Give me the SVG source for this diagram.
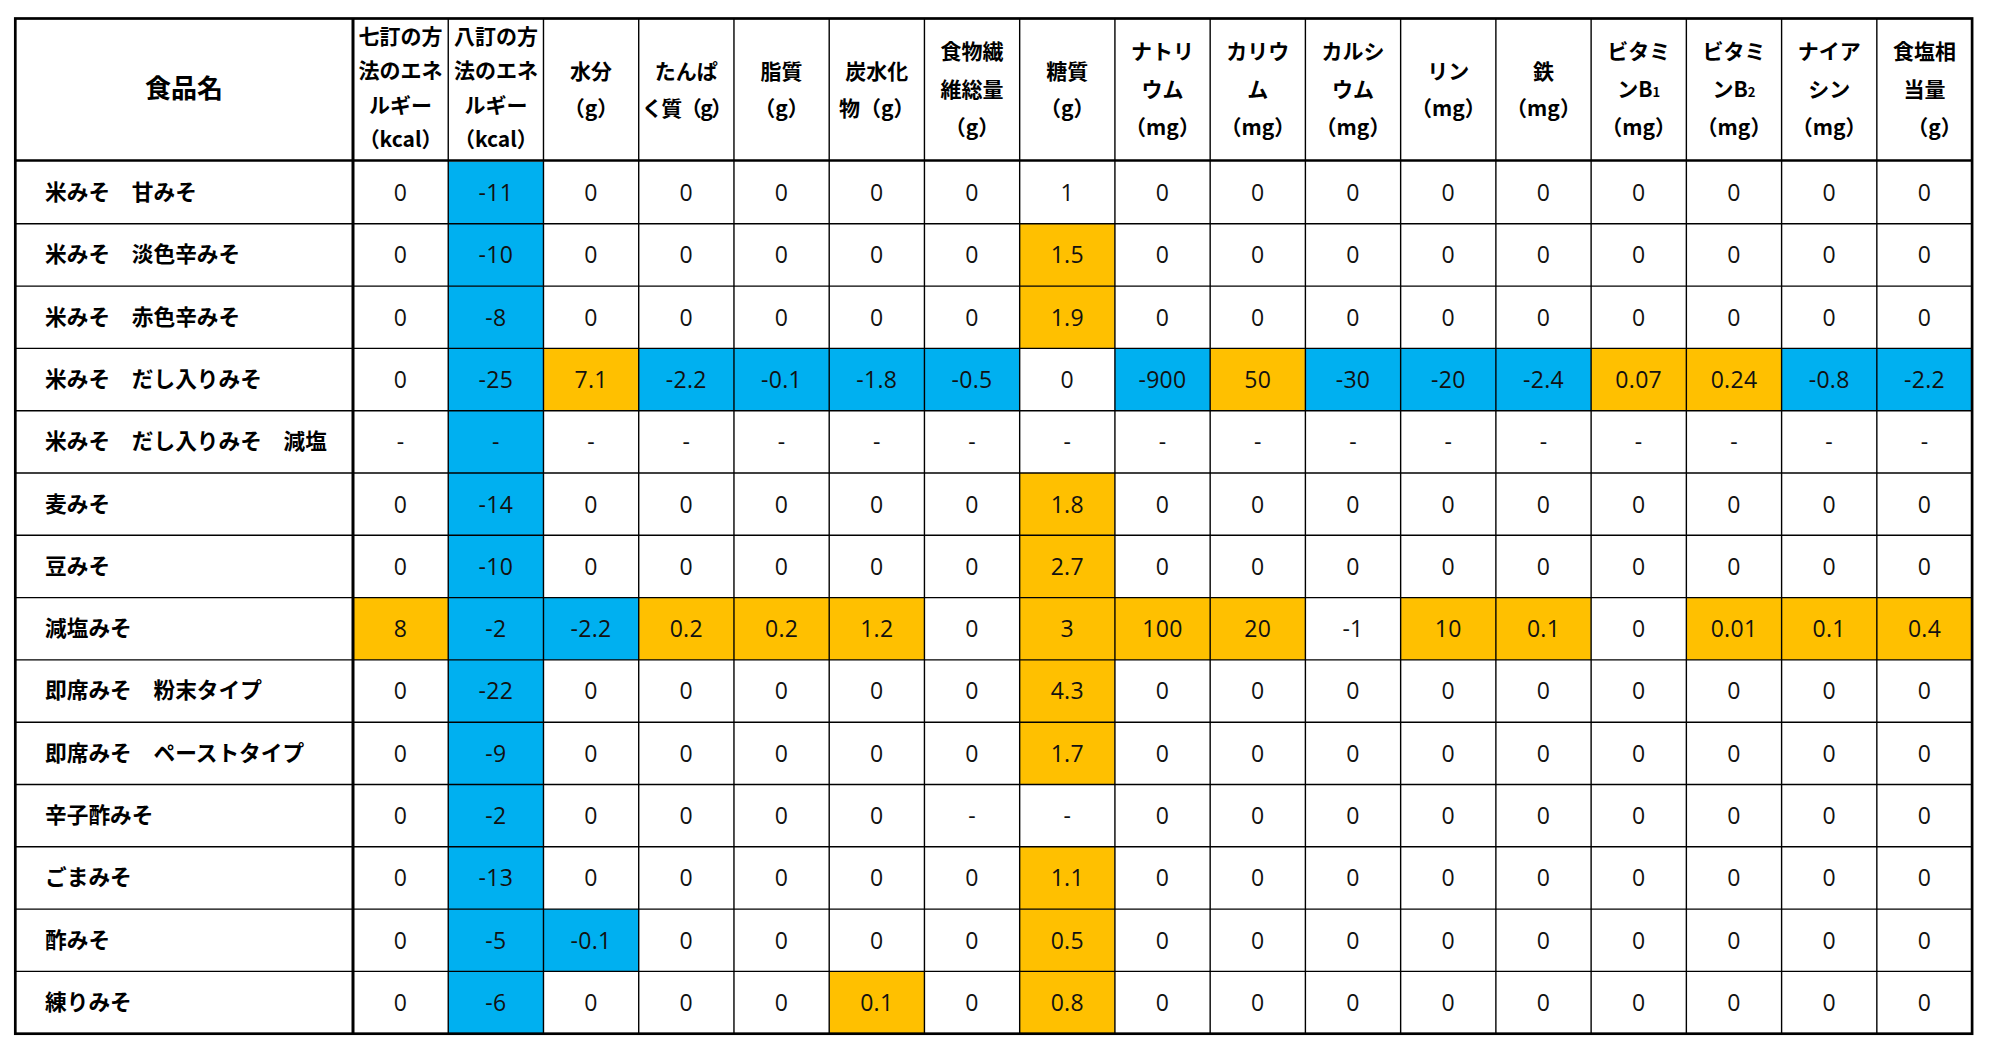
<svg xmlns="http://www.w3.org/2000/svg" width="1992" height="1059" viewBox="0 0 1992 1059">
<style>
.bg{fill:#fff}
.b{fill:#00B0F0}
.o{fill:#FFC000}
.h{font-family:"Noto Sans CJK JP","Noto Sans CJK SC",sans-serif;font-weight:bold;font-size:21px;fill:#000;text-anchor:middle}
.t{font-size:26px}
.s{letter-spacing:-1.5px}
.row text{font-family:"Open Sans","Noto Sans",sans-serif;font-size:23px;letter-spacing:0.3px;fill:#111;text-anchor:middle}
.row text.l{font-family:"Noto Sans CJK JP","Noto Sans CJK SC",sans-serif;font-weight:bold;font-size:21.7px;letter-spacing:0;fill:#000;text-anchor:start}
.g line{stroke:#000;stroke-width:1.4}
.g .k{stroke-width:3}
.g .m{stroke-width:2.5}
.g rect{fill:none;stroke:#000;stroke-width:2.7}
</style>
<rect class="bg" x="0" y="0" width="1992" height="1059"/>
<g id="header">
<text class="h t" x="184" y="98">食品名</text>
<text class="h" x="400.6" y="43.5">七訂の方</text><text class="h" x="400.6" y="78">法のエネ</text><text class="h" x="400.6" y="112.5">ルギー</text><text class="h" x="400.6" y="147">（kcal）</text>
<text class="h" x="495.9" y="43.5">八訂の方</text><text class="h" x="495.9" y="78">法のエネ</text><text class="h" x="495.9" y="112.5">ルギー</text><text class="h" x="495.9" y="147">（kcal）</text>
<text class="h" x="591.1" y="79">水分</text><text class="h" x="591.1" y="116">（g）</text>
<text class="h" x="686.3" y="79">たんぱ</text><text class="h s" x="686.3" y="116">く質（g）</text>
<text class="h" x="781.6" y="79">脂質</text><text class="h" x="781.6" y="116">（g）</text>
<text class="h" x="876.8" y="79">炭水化</text><text class="h" x="876.8" y="116">物（g）</text>
<text class="h" x="972.1" y="59">食物繊</text><text class="h" x="972.1" y="97">維総量</text><text class="h" x="972.1" y="135">（g）</text>
<text class="h" x="1067.3" y="79">糖質</text><text class="h" x="1067.3" y="116">（g）</text>
<text class="h" x="1162.5" y="59">ナトリ</text><text class="h" x="1162.5" y="97">ウム</text><text class="h" x="1162.5" y="135">（mg）</text>
<text class="h" x="1257.8" y="59">カリウ</text><text class="h" x="1257.8" y="97">ム</text><text class="h" x="1257.8" y="135">（mg）</text>
<text class="h" x="1353" y="59">カルシ</text><text class="h" x="1353" y="97">ウム</text><text class="h" x="1353" y="135">（mg）</text>
<text class="h" x="1448.3" y="79">リン</text><text class="h" x="1448.3" y="116">（mg）</text>
<text class="h" x="1543.5" y="79">鉄</text><text class="h" x="1543.5" y="116">（mg）</text>
<text class="h" x="1638.7" y="59">ビタミ</text><text class="h" x="1638.7" y="97">ンB<tspan font-size="13">1</tspan></text><text class="h" x="1638.7" y="135">（mg）</text>
<text class="h" x="1734" y="59">ビタミ</text><text class="h" x="1734" y="97">ンB<tspan font-size="13">2</tspan></text><text class="h" x="1734" y="135">（mg）</text>
<text class="h" x="1829.2" y="59">ナイア</text><text class="h" x="1829.2" y="97">シン</text><text class="h" x="1829.2" y="135">（mg）</text>
<text class="h" x="1924.5" y="59">食塩相</text><text class="h" x="1924.5" y="97">当量</text><text class="h" x="1934.5" y="135">（g）</text>
</g>
<g id="row1" class="row" transform="translate(0,161.5)">
<rect class="b" x="448.24" y="0" width="95.24" height="62.3"/>
<text class="l" x="45" y="38.5">米みそ　甘みそ</text>
<text x="400.6" y="39.5">0</text><text x="495.9" y="39.5">-11</text><text x="591.1" y="39.5">0</text><text x="686.3" y="39.5">0</text><text x="781.6" y="39.5">0</text><text x="876.8" y="39.5">0</text><text x="972.1" y="39.5">0</text><text x="1067.3" y="39.5">1</text><text x="1162.5" y="39.5">0</text><text x="1257.8" y="39.5">0</text><text x="1353" y="39.5">0</text><text x="1448.3" y="39.5">0</text><text x="1543.5" y="39.5">0</text><text x="1638.7" y="39.5">0</text><text x="1734" y="39.5">0</text><text x="1829.2" y="39.5">0</text><text x="1924.5" y="39.5">0</text>
</g>
<g id="row2" class="row" transform="translate(0,223.8)">
<rect class="b" x="448.24" y="0" width="95.24" height="62.3"/>
<rect class="o" x="1019.68" y="0" width="95.24" height="62.3"/>
<text class="l" x="45" y="38.5">米みそ　淡色辛みそ</text>
<text x="400.6" y="39.5">0</text><text x="495.9" y="39.5">-10</text><text x="591.1" y="39.5">0</text><text x="686.3" y="39.5">0</text><text x="781.6" y="39.5">0</text><text x="876.8" y="39.5">0</text><text x="972.1" y="39.5">0</text><text x="1067.3" y="39.5">1.5</text><text x="1162.5" y="39.5">0</text><text x="1257.8" y="39.5">0</text><text x="1353" y="39.5">0</text><text x="1448.3" y="39.5">0</text><text x="1543.5" y="39.5">0</text><text x="1638.7" y="39.5">0</text><text x="1734" y="39.5">0</text><text x="1829.2" y="39.5">0</text><text x="1924.5" y="39.5">0</text>
</g>
<g id="row3" class="row" transform="translate(0,286.1)">
<rect class="b" x="448.24" y="0" width="95.24" height="62.3"/>
<rect class="o" x="1019.68" y="0" width="95.24" height="62.3"/>
<text class="l" x="45" y="38.5">米みそ　赤色辛みそ</text>
<text x="400.6" y="39.5">0</text><text x="495.9" y="39.5">-8</text><text x="591.1" y="39.5">0</text><text x="686.3" y="39.5">0</text><text x="781.6" y="39.5">0</text><text x="876.8" y="39.5">0</text><text x="972.1" y="39.5">0</text><text x="1067.3" y="39.5">1.9</text><text x="1162.5" y="39.5">0</text><text x="1257.8" y="39.5">0</text><text x="1353" y="39.5">0</text><text x="1448.3" y="39.5">0</text><text x="1543.5" y="39.5">0</text><text x="1638.7" y="39.5">0</text><text x="1734" y="39.5">0</text><text x="1829.2" y="39.5">0</text><text x="1924.5" y="39.5">0</text>
</g>
<g id="row4" class="row" transform="translate(0,348.4)">
<rect class="b" x="448.24" y="0" width="95.24" height="62.3"/>
<rect class="o" x="543.48" y="0" width="95.24" height="62.3"/>
<rect class="b" x="638.72" y="0" width="381" height="62.3"/>
<rect class="b" x="1114.92" y="0" width="95.24" height="62.3"/>
<rect class="o" x="1210.16" y="0" width="95.24" height="62.3"/>
<rect class="b" x="1305.4" y="0" width="285.72" height="62.3"/>
<rect class="o" x="1591.12" y="0" width="190.48" height="62.3"/>
<rect class="b" x="1781.6" y="0" width="190.48" height="62.3"/>
<text class="l" x="45" y="38.5">米みそ　だし入りみそ</text>
<text x="400.6" y="39.5">0</text><text x="495.9" y="39.5">-25</text><text x="591.1" y="39.5">7.1</text><text x="686.3" y="39.5">-2.2</text><text x="781.6" y="39.5">-0.1</text><text x="876.8" y="39.5">-1.8</text><text x="972.1" y="39.5">-0.5</text><text x="1067.3" y="39.5">0</text><text x="1162.5" y="39.5">-900</text><text x="1257.8" y="39.5">50</text><text x="1353" y="39.5">-30</text><text x="1448.3" y="39.5">-20</text><text x="1543.5" y="39.5">-2.4</text><text x="1638.7" y="39.5">0.07</text><text x="1734" y="39.5">0.24</text><text x="1829.2" y="39.5">-0.8</text><text x="1924.5" y="39.5">-2.2</text>
</g>
<g id="row5" class="row" transform="translate(0,410.7)">
<rect class="b" x="448.24" y="0" width="95.24" height="62.3"/>
<text class="l" x="45" y="38.5">米みそ　だし入りみそ　減塩</text>
<text x="400.6" y="39.5">-</text><text x="495.9" y="39.5">-</text><text x="591.1" y="39.5">-</text><text x="686.3" y="39.5">-</text><text x="781.6" y="39.5">-</text><text x="876.8" y="39.5">-</text><text x="972.1" y="39.5">-</text><text x="1067.3" y="39.5">-</text><text x="1162.5" y="39.5">-</text><text x="1257.8" y="39.5">-</text><text x="1353" y="39.5">-</text><text x="1448.3" y="39.5">-</text><text x="1543.5" y="39.5">-</text><text x="1638.7" y="39.5">-</text><text x="1734" y="39.5">-</text><text x="1829.2" y="39.5">-</text><text x="1924.5" y="39.5">-</text>
</g>
<g id="row6" class="row" transform="translate(0,473)">
<rect class="b" x="448.24" y="0" width="95.24" height="62.3"/>
<rect class="o" x="1019.68" y="0" width="95.24" height="62.3"/>
<text class="l" x="45" y="38.5">麦みそ</text>
<text x="400.6" y="39.5">0</text><text x="495.9" y="39.5">-14</text><text x="591.1" y="39.5">0</text><text x="686.3" y="39.5">0</text><text x="781.6" y="39.5">0</text><text x="876.8" y="39.5">0</text><text x="972.1" y="39.5">0</text><text x="1067.3" y="39.5">1.8</text><text x="1162.5" y="39.5">0</text><text x="1257.8" y="39.5">0</text><text x="1353" y="39.5">0</text><text x="1448.3" y="39.5">0</text><text x="1543.5" y="39.5">0</text><text x="1638.7" y="39.5">0</text><text x="1734" y="39.5">0</text><text x="1829.2" y="39.5">0</text><text x="1924.5" y="39.5">0</text>
</g>
<g id="row7" class="row" transform="translate(0,535.3)">
<rect class="b" x="448.24" y="0" width="95.24" height="62.3"/>
<rect class="o" x="1019.68" y="0" width="95.24" height="62.3"/>
<text class="l" x="45" y="38.5">豆みそ</text>
<text x="400.6" y="39.5">0</text><text x="495.9" y="39.5">-10</text><text x="591.1" y="39.5">0</text><text x="686.3" y="39.5">0</text><text x="781.6" y="39.5">0</text><text x="876.8" y="39.5">0</text><text x="972.1" y="39.5">0</text><text x="1067.3" y="39.5">2.7</text><text x="1162.5" y="39.5">0</text><text x="1257.8" y="39.5">0</text><text x="1353" y="39.5">0</text><text x="1448.3" y="39.5">0</text><text x="1543.5" y="39.5">0</text><text x="1638.7" y="39.5">0</text><text x="1734" y="39.5">0</text><text x="1829.2" y="39.5">0</text><text x="1924.5" y="39.5">0</text>
</g>
<g id="row8" class="row" transform="translate(0,597.6)">
<rect class="o" x="353" y="0" width="95.24" height="62.3"/>
<rect class="b" x="448.24" y="0" width="190.48" height="62.3"/>
<rect class="o" x="638.72" y="0" width="285.72" height="62.3"/>
<rect class="o" x="1019.68" y="0" width="285.72" height="62.3"/>
<rect class="o" x="1400.64" y="0" width="190.48" height="62.3"/>
<rect class="o" x="1686.36" y="0" width="285.72" height="62.3"/>
<text class="l" x="45" y="38.5">減塩みそ</text>
<text x="400.6" y="39.5">8</text><text x="495.9" y="39.5">-2</text><text x="591.1" y="39.5">-2.2</text><text x="686.3" y="39.5">0.2</text><text x="781.6" y="39.5">0.2</text><text x="876.8" y="39.5">1.2</text><text x="972.1" y="39.5">0</text><text x="1067.3" y="39.5">3</text><text x="1162.5" y="39.5">100</text><text x="1257.8" y="39.5">20</text><text x="1353" y="39.5">-1</text><text x="1448.3" y="39.5">10</text><text x="1543.5" y="39.5">0.1</text><text x="1638.7" y="39.5">0</text><text x="1734" y="39.5">0.01</text><text x="1829.2" y="39.5">0.1</text><text x="1924.5" y="39.5">0.4</text>
</g>
<g id="row9" class="row" transform="translate(0,659.9)">
<rect class="b" x="448.24" y="0" width="95.24" height="62.3"/>
<rect class="o" x="1019.68" y="0" width="95.24" height="62.3"/>
<text class="l" x="45" y="38.5">即席みそ　粉末タイプ</text>
<text x="400.6" y="39.5">0</text><text x="495.9" y="39.5">-22</text><text x="591.1" y="39.5">0</text><text x="686.3" y="39.5">0</text><text x="781.6" y="39.5">0</text><text x="876.8" y="39.5">0</text><text x="972.1" y="39.5">0</text><text x="1067.3" y="39.5">4.3</text><text x="1162.5" y="39.5">0</text><text x="1257.8" y="39.5">0</text><text x="1353" y="39.5">0</text><text x="1448.3" y="39.5">0</text><text x="1543.5" y="39.5">0</text><text x="1638.7" y="39.5">0</text><text x="1734" y="39.5">0</text><text x="1829.2" y="39.5">0</text><text x="1924.5" y="39.5">0</text>
</g>
<g id="row10" class="row" transform="translate(0,722.2)">
<rect class="b" x="448.24" y="0" width="95.24" height="62.3"/>
<rect class="o" x="1019.68" y="0" width="95.24" height="62.3"/>
<text class="l" x="45" y="38.5">即席みそ　ペーストタイプ</text>
<text x="400.6" y="39.5">0</text><text x="495.9" y="39.5">-9</text><text x="591.1" y="39.5">0</text><text x="686.3" y="39.5">0</text><text x="781.6" y="39.5">0</text><text x="876.8" y="39.5">0</text><text x="972.1" y="39.5">0</text><text x="1067.3" y="39.5">1.7</text><text x="1162.5" y="39.5">0</text><text x="1257.8" y="39.5">0</text><text x="1353" y="39.5">0</text><text x="1448.3" y="39.5">0</text><text x="1543.5" y="39.5">0</text><text x="1638.7" y="39.5">0</text><text x="1734" y="39.5">0</text><text x="1829.2" y="39.5">0</text><text x="1924.5" y="39.5">0</text>
</g>
<g id="row11" class="row" transform="translate(0,784.5)">
<rect class="b" x="448.24" y="0" width="95.24" height="62.3"/>
<text class="l" x="45" y="38.5">辛子酢みそ</text>
<text x="400.6" y="39.5">0</text><text x="495.9" y="39.5">-2</text><text x="591.1" y="39.5">0</text><text x="686.3" y="39.5">0</text><text x="781.6" y="39.5">0</text><text x="876.8" y="39.5">0</text><text x="972.1" y="39.5">-</text><text x="1067.3" y="39.5">-</text><text x="1162.5" y="39.5">0</text><text x="1257.8" y="39.5">0</text><text x="1353" y="39.5">0</text><text x="1448.3" y="39.5">0</text><text x="1543.5" y="39.5">0</text><text x="1638.7" y="39.5">0</text><text x="1734" y="39.5">0</text><text x="1829.2" y="39.5">0</text><text x="1924.5" y="39.5">0</text>
</g>
<g id="row12" class="row" transform="translate(0,846.8)">
<rect class="b" x="448.24" y="0" width="95.24" height="62.3"/>
<rect class="o" x="1019.68" y="0" width="95.24" height="62.3"/>
<text class="l" x="45" y="38.5">ごまみそ</text>
<text x="400.6" y="39.5">0</text><text x="495.9" y="39.5">-13</text><text x="591.1" y="39.5">0</text><text x="686.3" y="39.5">0</text><text x="781.6" y="39.5">0</text><text x="876.8" y="39.5">0</text><text x="972.1" y="39.5">0</text><text x="1067.3" y="39.5">1.1</text><text x="1162.5" y="39.5">0</text><text x="1257.8" y="39.5">0</text><text x="1353" y="39.5">0</text><text x="1448.3" y="39.5">0</text><text x="1543.5" y="39.5">0</text><text x="1638.7" y="39.5">0</text><text x="1734" y="39.5">0</text><text x="1829.2" y="39.5">0</text><text x="1924.5" y="39.5">0</text>
</g>
<g id="row13" class="row" transform="translate(0,909.1)">
<rect class="b" x="448.24" y="0" width="190.48" height="62.3"/>
<rect class="o" x="1019.68" y="0" width="95.24" height="62.3"/>
<text class="l" x="45" y="38.5">酢みそ</text>
<text x="400.6" y="39.5">0</text><text x="495.9" y="39.5">-5</text><text x="591.1" y="39.5">-0.1</text><text x="686.3" y="39.5">0</text><text x="781.6" y="39.5">0</text><text x="876.8" y="39.5">0</text><text x="972.1" y="39.5">0</text><text x="1067.3" y="39.5">0.5</text><text x="1162.5" y="39.5">0</text><text x="1257.8" y="39.5">0</text><text x="1353" y="39.5">0</text><text x="1448.3" y="39.5">0</text><text x="1543.5" y="39.5">0</text><text x="1638.7" y="39.5">0</text><text x="1734" y="39.5">0</text><text x="1829.2" y="39.5">0</text><text x="1924.5" y="39.5">0</text>
</g>
<g id="row14" class="row" transform="translate(0,971.4)">
<rect class="b" x="448.24" y="0" width="95.24" height="62.3"/>
<rect class="o" x="829.2" y="0" width="95.24" height="62.3"/>
<rect class="o" x="1019.68" y="0" width="95.24" height="62.3"/>
<text class="l" x="45" y="38.5">練りみそ</text>
<text x="400.6" y="39.5">0</text><text x="495.9" y="39.5">-6</text><text x="591.1" y="39.5">0</text><text x="686.3" y="39.5">0</text><text x="781.6" y="39.5">0</text><text x="876.8" y="39.5">0.1</text><text x="972.1" y="39.5">0</text><text x="1067.3" y="39.5">0.8</text><text x="1162.5" y="39.5">0</text><text x="1257.8" y="39.5">0</text><text x="1353" y="39.5">0</text><text x="1448.3" y="39.5">0</text><text x="1543.5" y="39.5">0</text><text x="1638.7" y="39.5">0</text><text x="1734" y="39.5">0</text><text x="1829.2" y="39.5">0</text><text x="1924.5" y="39.5">0</text>
</g>
<g id="grid" class="g">
<line x1="448.24" y1="18.5" x2="448.24" y2="1033.7"/>
<line x1="543.48" y1="18.5" x2="543.48" y2="1033.7"/>
<line x1="638.72" y1="18.5" x2="638.72" y2="1033.7"/>
<line x1="733.96" y1="18.5" x2="733.96" y2="1033.7"/>
<line x1="829.2" y1="18.5" x2="829.2" y2="1033.7"/>
<line x1="924.44" y1="18.5" x2="924.44" y2="1033.7"/>
<line x1="1019.68" y1="18.5" x2="1019.68" y2="1033.7"/>
<line x1="1114.92" y1="18.5" x2="1114.92" y2="1033.7"/>
<line x1="1210.16" y1="18.5" x2="1210.16" y2="1033.7"/>
<line x1="1305.4" y1="18.5" x2="1305.4" y2="1033.7"/>
<line x1="1400.64" y1="18.5" x2="1400.64" y2="1033.7"/>
<line x1="1495.88" y1="18.5" x2="1495.88" y2="1033.7"/>
<line x1="1591.12" y1="18.5" x2="1591.12" y2="1033.7"/>
<line x1="1686.36" y1="18.5" x2="1686.36" y2="1033.7"/>
<line x1="1781.6" y1="18.5" x2="1781.6" y2="1033.7"/>
<line x1="1876.84" y1="18.5" x2="1876.84" y2="1033.7"/>
<line x1="15.3" y1="223.8" x2="1972" y2="223.8"/>
<line x1="15.3" y1="286.1" x2="1972" y2="286.1"/>
<line x1="15.3" y1="348.4" x2="1972" y2="348.4"/>
<line x1="15.3" y1="410.7" x2="1972" y2="410.7"/>
<line x1="15.3" y1="473" x2="1972" y2="473"/>
<line x1="15.3" y1="535.3" x2="1972" y2="535.3"/>
<line x1="15.3" y1="597.6" x2="1972" y2="597.6"/>
<line x1="15.3" y1="659.9" x2="1972" y2="659.9"/>
<line x1="15.3" y1="722.2" x2="1972" y2="722.2"/>
<line x1="15.3" y1="784.5" x2="1972" y2="784.5"/>
<line x1="15.3" y1="846.8" x2="1972" y2="846.8"/>
<line x1="15.3" y1="909.1" x2="1972" y2="909.1"/>
<line x1="15.3" y1="971.4" x2="1972" y2="971.4"/>
<line class="m" x1="15.3" y1="160.5" x2="1972" y2="160.5"/>
<line class="k" x1="353" y1="18.5" x2="353" y2="1033.7"/>
<rect x="15.3" y="18.5" width="1956.8" height="1015.2"/>
</g>
</svg>
